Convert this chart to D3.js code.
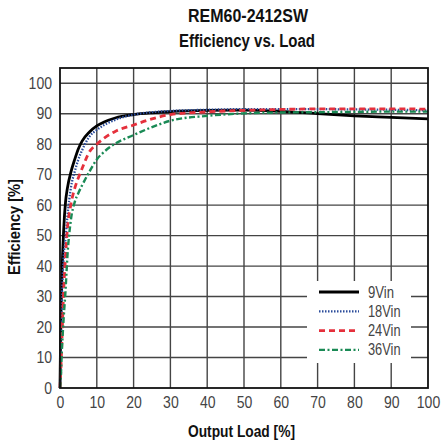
<!DOCTYPE html>
<html>
<head>
<meta charset="utf-8">
<script src="https://cdn.jsdelivr.net/npm/d3@7"></script>
<style>
  body { margin: 0; background: #fff; }
  .tick text { font-family: "Liberation Sans", Arial, sans-serif; font-size: 16px; fill: #444; }
  .title { font-family: "Liberation Sans", Arial, sans-serif; font-weight: bold; font-size: 18px; fill: #111; }
  .axis-title { font-family: "Liberation Sans", Arial, sans-serif; font-weight: bold; font-size: 16px; fill: #111; }
  .legend text { font-family: "Liberation Sans", Arial, sans-serif; font-size: 16px; fill: #444; }
</style>
</head>
<body>
<div id="chart"></div>
<script>
// output load in %, shared by all four curves
var load = [0, 0.2, 0.5, 1, 1.5, 2, 3, 4, 5, 6, 8, 10, 12, 15, 20, 25, 30, 40, 50, 60, 70, 80, 90, 100];
var eff9  = [0, 20, 36, 52, 61, 65.5, 71, 75, 78.5, 81, 84, 86, 87.3, 88.6, 89.7, 90.3, 90.7, 91.1, 91.2, 90.8, 90.0, 89.3, 88.8, 88.3];
var eff18 = [0, 10, 28, 43, 49, 56, 66, 71, 75, 78, 82.5, 84.7, 86.3, 88, 89.7, 90.5, 90.9, 91.3, 91.5, 91.5, 91.5, 91.4, 91.3, 91.1];
var eff24 = [0, 5, 15, 32, 43, 52, 60.5, 65.5, 69, 72, 77.5, 80, 82, 84.2, 86.3, 88.3, 89.7, 90.6, 91.1, 91.4, 91.6, 91.6, 91.6, 91.5];
var eff36 = [0, 3, 12, 23, 32, 43, 55.5, 61, 64, 66.5, 71, 75, 77.5, 80.2, 83.0, 85.6, 87.7, 89.3, 90.1, 90.4, 90.5, 90.6, 90.7, 90.7];
var seriesNames = ["9Vin", "18Vin", "24Vin", "36Vin"];
var xTicks = [0, 10, 20, 30, 40, 50, 60, 70, 80, 90, 100];
var yTicks = [0, 10, 20, 30, 40, 50, 60, 70, 80, 90, 100];

function init() {
  var w = 444, h = 442;
  var left = 60, right = 428, top = 68, bottom = 388;

  var svg = d3.select("#chart").append("svg")
              .attr("width", w)
              .attr("height", h);

  var xScale = d3.scaleLinear().domain([0, 100]).range([left, right]);
  var yScale = d3.scaleLinear().domain([0, 105]).range([bottom, top]);

  var styles = [
    { color: "#000000", width: 2.8, dash: null },
    { color: "#2b4c9b", width: 2.3, dash: "1.5,1.5" },
    { color: "#e5303c", width: 2.8, dash: "6,4" },
    { color: "#1a8a55", width: 2.4, dash: "6,2.5,2,2.5" }
  ];
  var effs = [eff9, eff18, eff24, eff36];

  // narrow look: squeeze text horizontally (no condensed font installed)
  function squeeze(sel, perChar) {
    sel.each(function() {
      var t = d3.select(this);
      t.attr("textLength", t.text().length * perChar).attr("lengthAdjust", "spacingAndGlyphs");
    });
  }

  // grid
  svg.append("g").selectAll("line.v")
    .data(xTicks.slice(1, -1)).enter().append("line")
    .attr("x1", function(d) { return xScale(d); })
    .attr("x2", function(d) { return xScale(d); })
    .attr("y1", top).attr("y2", bottom)
    .style("stroke", "#444").style("stroke-width", 1.4);

  svg.append("g").selectAll("line.h")
    .data(yTicks.slice(1)).enter().append("line")
    .attr("y1", function(d) { return yScale(d); })
    .attr("y2", function(d) { return yScale(d); })
    .attr("x1", left).attr("x2", right)
    .style("stroke", "#444").style("stroke-width", 1.4);

  // axes (labels only, border drawn below)
  var xAxis = d3.axisBottom(xScale).tickValues(xTicks).tickSize(0).tickPadding(9);
  var yAxis = d3.axisLeft(yScale).tickValues(yTicks).tickSize(0).tickPadding(8);

  svg.append("g")
    .attr("transform", "translate(0," + bottom + ")")
    .call(xAxis)
    .call(function(g) { g.select(".domain").remove(); })
    .selectAll("text").call(squeeze, 7.8);

  svg.append("g")
    .attr("transform", "translate(" + left + ",0)")
    .call(yAxis)
    .call(function(g) { g.select(".domain").remove(); })
    .selectAll("text").call(squeeze, 7.8);

  // legend background hides grid
  svg.append("rect")
    .attr("x", 307).attr("y", 281)
    .attr("width", 104).attr("height", 82)
    .attr("fill", "#fff");

  // curves
  effs.forEach(function(e, i) {
    var pts = load.map(function(l, j) { return [l, e[j]]; });
    var line = d3.line()
      .x(function(d) { return xScale(d[0]); })
      .y(function(d) { return yScale(d[1]); })
      .curve(d3.curveMonotoneX);
    var p = svg.append("path")
      .datum(pts)
      .attr("d", line)
      .attr("fill", "none")
      .style("stroke", styles[i].color)
      .style("stroke-width", styles[i].width);
    if (styles[i].dash) p.style("stroke-dasharray", styles[i].dash);
  });

  // border
  svg.append("rect")
    .attr("x", left).attr("y", top)
    .attr("width", right - left).attr("height", bottom - top)
    .attr("fill", "none")
    .style("stroke", "#111").style("stroke-width", 1.8);

  // legend
  var legend = svg.append("g").attr("class", "legend");
  seriesNames.forEach(function(name, i) {
    var y = 292 + i * 19.3;
    var l = legend.append("line")
      .attr("x1", 319).attr("x2", 359)
      .attr("y1", y).attr("y2", y)
      .style("stroke", styles[i].color)
      .style("stroke-width", styles[i].width);
    if (styles[i].dash) l.style("stroke-dasharray", styles[i].dash);
    legend.append("text")
      .attr("x", 368).attr("y", y + 5.5)
      .text(name)
      .attr("textLength", name.length * 6.5)
      .attr("lengthAdjust", "spacingAndGlyphs");
  });

  // titles
  svg.append("text").attr("class", "title")
    .attr("x", 248).attr("y", 22).attr("text-anchor", "middle")
    .attr("textLength", 120).attr("lengthAdjust", "spacingAndGlyphs")
    .text("REM60-2412SW");
  svg.append("text").attr("class", "title")
    .attr("x", 247).attr("y", 47).attr("text-anchor", "middle")
    .attr("textLength", 136).attr("lengthAdjust", "spacingAndGlyphs")
    .text("Efficiency vs. Load");

  svg.append("text").attr("class", "axis-title")
    .attr("x", 241.5).attr("y", 437).attr("text-anchor", "middle")
    .attr("textLength", 107).attr("lengthAdjust", "spacingAndGlyphs")
    .text("Output Load [%]");

  svg.append("text").attr("class", "axis-title")
    .attr("transform", "translate(20,227) rotate(-90)")
    .attr("text-anchor", "middle")
    .attr("textLength", 96).attr("lengthAdjust", "spacingAndGlyphs")
    .text("Efficiency [%]");
}

window.onload = init;
</script>
</body>
</html>
